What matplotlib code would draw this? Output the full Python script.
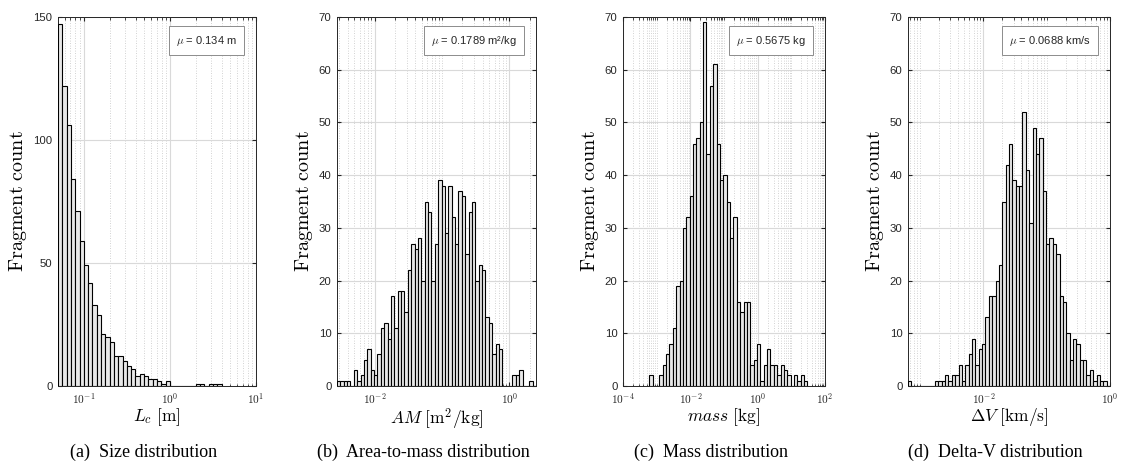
import matplotlib
matplotlib.use("Agg")
import matplotlib.pyplot as plt
import numpy as np
from matplotlib.ticker import LogLocator, NullFormatter, MultipleLocator, FuncFormatter

plt.rcParams["mathtext.fontset"] = "cm"
plt.rcParams["font.family"] = ["Liberation Sans", "DejaVu Sans"]

# (a) size: log10 range of the bins and fragment counts per bin
size_log_range = (-1.3, 0.6)
size_counts = [147, 122, 106, 84, 71, 59, 49, 42, 33, 29, 21, 20, 18, 12, 12, 10, 8, 7, 4, 5,
               4, 3, 3, 2, 1, 2, 0, 0, 0, 0, 0, 0, 1, 1, 0, 1, 1, 1]

# (b) area-to-mass
am_log_range = (-2.557, 0.393)
am_counts = [1, 1, 1, 1, 0, 3, 1, 2, 5, 7, 3, 2, 6, 11, 12, 9, 17, 11, 18, 18,
             14, 22, 27, 26, 28, 20, 35, 33, 20, 27, 39, 38, 29, 38, 32, 27, 37, 36, 25, 33,
             35, 20, 23, 22, 13, 12, 6, 8, 7, 0, 0, 0, 2, 2, 3, 0, 0, 1, 0]

# (c) mass
mass_log_range = (-3.22, 1.48)
mass_counts = [2, 0, 0, 2, 4, 6, 8, 11, 19, 20, 30, 32, 36, 46, 47, 50, 69, 44, 57, 61,
               46, 39, 40, 35, 28, 32, 16, 14, 16, 16, 4, 5, 8, 1, 4, 7, 4, 4, 2, 4,
               3, 2, 0, 2, 1, 2, 1]

# (d) delta-V
dv_log_range = (-3.19, 0.0)
dv_counts = [1, 0, 0, 0, 0, 0, 0, 0, 1, 1, 1, 2, 1, 2, 2, 4, 1, 4, 6, 9,
             4, 7, 8, 13, 17, 17, 20, 23, 35, 42, 46, 39, 38, 38, 52, 41, 31, 49, 44, 47,
             37, 27, 28, 27, 25, 17, 16, 10, 5, 9, 8, 5, 5, 2, 3, 1, 2, 1, 1, 0]

panels = [
    dict(rng=size_log_range, counts=size_counts, xlim=(10 ** -1.3, 10 ** 1), ymax=150,
         ystep=50, major=10, mean=r"$\mu$ = 0.134 m", xlabel=r"$L_c\ \mathrm{[m]}$",
         caption="(a)  Size distribution", box=(58, 256)),
    dict(rng=am_log_range, counts=am_counts, xlim=(10 ** -2.557, 10 ** 0.393), ymax=70,
         ystep=10, major=100, mean=r"$\mu$ = 0.1789 m²/kg",
         xlabel=r"$AM\ [\mathrm{m}^2/\mathrm{kg}]$",
         caption="(b)  Area-to-mass distribution", box=(337, 536)),
    dict(rng=mass_log_range, counts=mass_counts, xlim=(1e-4, 1e2), ymax=70,
         ystep=10, major=100, mean=r"$\mu$ = 0.5675 kg", xlabel=r"$mass\ \mathrm{[kg]}$",
         caption="(c)  Mass distribution", box=(623, 825)),
    dict(rng=dv_log_range, counts=dv_counts, xlim=(10 ** -3.19, 1e0), ymax=70,
         ystep=10, major=100, mean=r"$\mu$ = 0.0688 km/s",
         xlabel=r"$\Delta V\ [\mathrm{km/s}]$",
         caption="(d)  Delta-V distribution", box=(908, 1110)),
]


def pow10_label(v, pos):
    return r"$\mathsf{10^{%d}}$" % int(round(np.log10(v)))


W, H = 1123, 474
fig = plt.figure(figsize=(W / 100, H / 100), dpi=100)
top_px, bot_px = 17, 386

for p in panels:
    x0, x1 = p["box"]
    ax = fig.add_axes([x0 / W, 1 - bot_px / H, (x1 - x0) / W, (bot_px - top_px) / H])
    counts = np.array(p["counts"])
    edges = np.logspace(p["rng"][0], p["rng"][1], len(counts) + 1)
    ax.bar(edges[:-1], counts, width=np.diff(edges), align="edge",
           facecolor="#e8e8e8", edgecolor="black", linewidth=0.8, zorder=3)
    ax.set_xscale("log")
    ax.set_xlim(*p["xlim"])
    ax.set_ylim(0, p["ymax"])
    ax.yaxis.set_major_locator(MultipleLocator(p["ystep"]))
    ax.xaxis.set_major_locator(LogLocator(base=p["major"], numticks=20))
    ax.xaxis.set_major_formatter(FuncFormatter(pow10_label))
    ax.xaxis.set_minor_locator(LogLocator(base=10, subs=np.arange(1, 10), numticks=40))
    ax.xaxis.set_minor_formatter(NullFormatter())
    ax.grid(True, which="major", color="#d9d9d9", linewidth=0.8, zorder=0)
    ax.grid(True, which="minor", axis="x", color="#c4c4c4", linestyle=(0, (1, 2)),
            linewidth=0.6, zorder=0)
    ax.tick_params(which="both", direction="in", top=True, right=True,
                   labelsize=8.2, labelcolor="#262626", color="#262626")
    ax.tick_params(which="major", length=3, pad=4)
    ax.tick_params(which="minor", length=1.8)
    for s in ax.spines.values():
        s.set_color("#262626")
        s.set_linewidth(0.7)
    ax.set_xlabel(p["xlabel"], fontsize=12.5, labelpad=0)
    ax.set_ylabel(r"$\mathrm{Fragment\ count}$", fontsize=14.5, labelpad=3)
    ax.text(0.905, 0.955, p["mean"], transform=ax.transAxes, ha="right", va="top",
            fontsize=8, color="#262626", zorder=5,
            bbox=dict(boxstyle="square,pad=0.65", facecolor="white", edgecolor="#8c8c8c",
                      linewidth=0.7))
    fig.text((x0 + x1) / 2 / W - 0.012, 1 - 452 / H, p["caption"], ha="center",
             va="center", fontsize=13, family="Liberation Serif")

fig.savefig("out.png", dpi=100)
